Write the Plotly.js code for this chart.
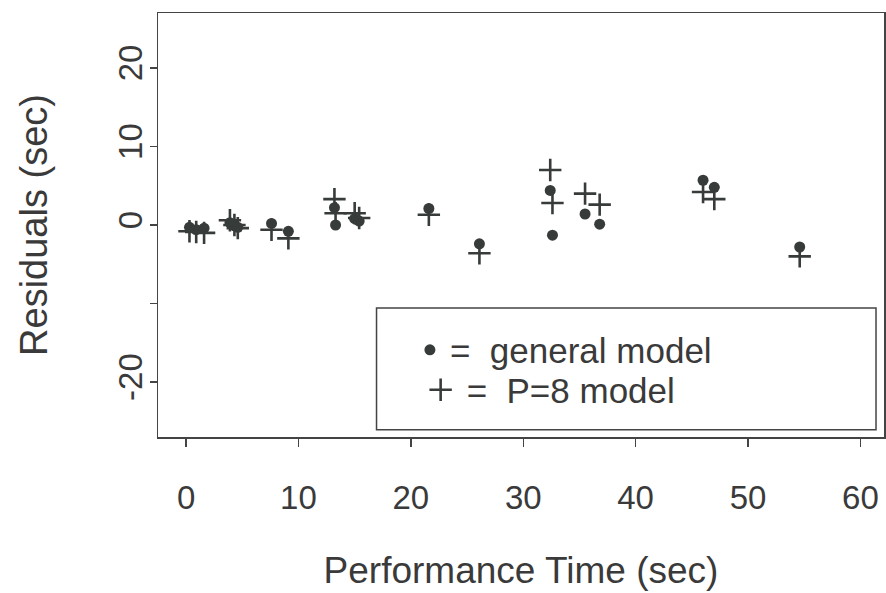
<!DOCTYPE html>
<html>
<head>
<meta charset="utf-8">
<script src="https://cdn.plot.ly/plotly-3.0.1.min.js"></script>
<style>html,body{margin:0;padding:0;background:#fff;}#chart{width:886px;height:593px;}</style>
</head>
<body>
<div id="chart"></div>
<script>
// Performance time (sec) of each observation
const perfTime = [0.3, 0.9, 1.6, 3.9, 4.3, 4.6, 7.6, 9.1, 13.2, 13.3, 15.0, 15.4, 21.6, 26.1, 32.4, 32.6, 35.5, 36.8, 46.0, 47.0, 54.6];
// Residuals (sec) of the general model
const residGeneral = [-0.3, -0.6, -0.4, 0.3, -0.1, -0.3, 0.2, -0.8, 2.2, 0.0, 0.8, 0.5, 2.1, -2.4, 4.4, -1.3, 1.4, 0.1, 5.7, 4.8, -2.8];
// Residuals (sec) of the P=8 model
const residP8 = [-0.8, -0.9, -1.0, 0.6, 0.0, -0.4, -0.6, -1.7, 3.3, 1.5, 1.5, 0.9, 1.3, -3.6, 7.0, 2.8, 4.0, 2.6, 4.2, 3.3, -4.0];

const xTickVals = [0, 10, 20, 30, 40, 50, 60];
const xTickText = ["0", "10", "20", "30", "40", "50", "60"];
const yTickVals = [-20, -10, 0, 10, 20];
const yTickText = ["-20", "", "0", "10", "20"];

const ink = '#373c3a';
const fontFam = 'Liberation Sans, Arial, Helvetica, sans-serif';
const legFont = {size: 35, family: fontFam, color: '#3a3a3a'};

const traces = [
  {
    x: perfTime, y: residGeneral, type: 'scatter', mode: 'markers',
    name: '=  general model', legend: 'legend',
    marker: {symbol: 'circle', size: 11, color: ink}
  },
  {
    x: perfTime, y: residP8, type: 'scatter', mode: 'markers',
    name: '=  P=8 model', legend: 'legend2',
    marker: {symbol: 'cross-thin', size: 16, color: ink, line: {color: ink, width: 2.6}}
  }
];

const layout = {
  width: 886, height: 593,
  margin: {l: 158, r: 2, t: 13, b: 156},
  paper_bgcolor: '#fff', plot_bgcolor: '#fff',
  font: {family: fontFam, color: '#3a3a3a'},
  showlegend: true,
  legend: {
    x: 0.347, xanchor: 'left', y: 0.205, yanchor: 'middle',
    bgcolor: 'rgba(0,0,0,0)', borderwidth: 0, font: legFont
  },
  legend2: {
    x: 0.3535, xanchor: 'left', y: 0.111, yanchor: 'middle', itemwidth: 42,
    bgcolor: 'rgba(0,0,0,0)', borderwidth: 0, font: legFont
  },
  xaxis: {
    range: [-2.5, 62.1], tickvals: xTickVals, ticktext: xTickText,
    showgrid: false, zeroline: false, showline: true, mirror: true,
    linecolor: '#444', linewidth: 1.5,
    ticks: 'outside', ticklen: 8, tickwidth: 1.5, tickcolor: '#444',
    tickfont: {size: 33}, ticklabelstandoff: 23,
    title: {text: 'Performance Time (sec)', font: {size: 37}, standoff: 42}
  },
  yaxis: {
    range: [-27, 27], tickvals: yTickVals, ticktext: yTickText,
    showgrid: false, zeroline: false, showline: true, mirror: true,
    linecolor: '#444', linewidth: 1.5,
    ticks: 'outside', ticklen: 7, tickwidth: 1.5, tickcolor: '#444',
    tickfont: {size: 33}, tickangle: -90, ticklabelstandoff: -6,
    title: {text: 'Residuals (sec)', font: {size: 38}, standoff: 53}
  },
  shapes: [
    {type: 'rect', xref: 'paper', yref: 'paper', x0: 0.301, x1: 0.989, y0: 0.017, y1: 0.304,
     line: {color: '#444', width: 1.5}, fillcolor: 'rgba(0,0,0,0)', layer: 'above'}
  ]
};

Plotly.newPlot('chart', traces, layout, {displayModeBar: false, staticPlot: true});
</script>
</body>
</html>
